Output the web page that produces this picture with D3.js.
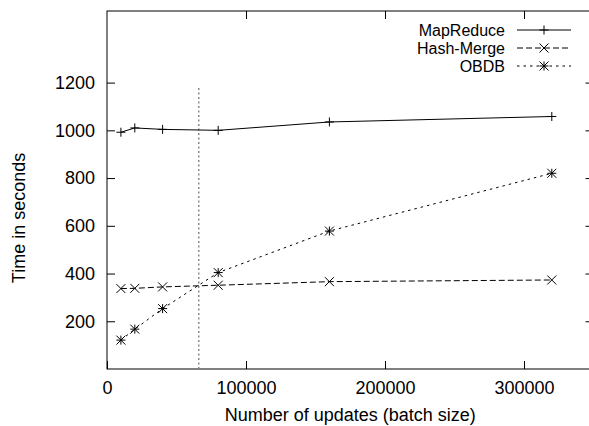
<!DOCTYPE html>
<html>
<head>
<meta charset="utf-8">
<script src="https://cdn.jsdelivr.net/npm/d3@7"></script>
<style>
  body { margin: 0; background: #fff; }
  text { font-family: "Liberation Sans", Arial, Helvetica, sans-serif; }
</style>
</head>
<body>
<div id="main"></div>
<script>
var batchSizes = [10000, 20000, 40000, 80000, 160000, 320000]
var mapReduce = [992, 1010, 1004, 1000, 1035, 1058]
var hashMerge = [337, 338, 344, 351, 366, 373]
var obdb = [121, 167, 253, 404, 578, 820]
var seriesNames = ['MapReduce', 'Hash-Merge', 'OBDB']
var xTicks = [0, 100000, 200000, 300000]
var yTicks = [200, 400, 600, 800, 1000, 1200]
var cutoff = { x: 66000, top: 1180 }

var width = 589
var height = 426
var fontSize = 18

var x = d3.scaleLinear().domain([0, 350000]).range([107, 593.5])
var y = d3.scaleLinear().domain([0, 1500]).range([369, 11])

var svg = d3.select('#main')
  .append('svg')
  .attr('width', width)
  .attr('height', height)

var series = [
  { name: seriesNames[0], values: mapReduce, dash: null, marker: 'plus' },
  { name: seriesNames[1], values: hashMerge, dash: '6,3', marker: 'cross' },
  { name: seriesNames[2], values: obdb, dash: '2.5,4', marker: 'star' }
]

// axes, ticks pointing inward
function styleAxis (g) {
  g.select('.domain').remove()
  g.selectAll('line').attr('stroke', '#000')
  g.selectAll('text').attr('font-size', fontSize).attr('fill', '#000')
    .style('font-family', '"Liberation Sans", Arial, Helvetica, sans-serif')
}

svg.append('g')
  .attr('transform', `translate(0, ${y(0)})`)
  .call(d3.axisBottom(x).tickValues(xTicks).tickSize(-8).tickPadding(12).tickFormat(d3.format('d')))
  .call(styleAxis)

svg.append('g')
  .attr('transform', `translate(0, ${y(1500)})`)
  .call(d3.axisTop(x).tickValues(xTicks.slice(1)).tickSize(-8).tickFormat(''))
  .call(styleAxis)

svg.append('g')
  .attr('transform', `translate(${x(0)}, 0)`)
  .call(d3.axisLeft(y).tickValues(yTicks).tickSize(-8).tickPadding(12).tickFormat(d3.format('d')))
  .call(styleAxis)

svg.append('g')
  .attr('transform', `translate(${x(350000)}, 0)`)
  .call(d3.axisRight(y).tickValues(yTicks).tickSize(-8).tickFormat(''))
  .call(styleAxis)

svg.append('rect')
  .attr('x', x(0))
  .attr('y', y(1500))
  .attr('width', x(350000) - x(0))
  .attr('height', y(0) - y(1500))
  .attr('fill', 'none')
  .attr('stroke', '#000')

// vertical dotted marker
svg.append('line')
  .attr('x1', x(cutoff.x)).attr('x2', x(cutoff.x))
  .attr('y1', y(0)).attr('y2', y(cutoff.top))
  .attr('stroke', '#888')
  .attr('stroke-width', 1.5)
  .attr('stroke-dasharray', '2,2.5')

function drawMarker (g, type, cx, cy) {
  var s = 4.5
  var d = ''
  if (type === 'plus' || type === 'star') {
    d += `M${cx - s},${cy}H${cx + s}M${cx},${cy - s}V${cy + s}`
  }
  if (type === 'cross' || type === 'star') {
    d += `M${cx - s},${cy - s}L${cx + s},${cy + s}M${cx - s},${cy + s}L${cx + s},${cy - s}`
  }
  g.append('path').attr('d', d).attr('stroke', '#000').attr('fill', 'none')
}

var line = d3.line().x(_ => x(_[0])).y(_ => y(_[1]))

series.forEach(function (s) {
  var pts = batchSizes.map((b, i) => [b, s.values[i]])
  svg.append('path')
    .attr('d', line(pts))
    .attr('fill', 'none')
    .attr('stroke', '#000')
    .attr('stroke-dasharray', s.dash)
  var g = svg.append('g')
  pts.forEach(p => drawMarker(g, s.marker, x(p[0]), y(p[1])))
})

// legend
var legend = svg.append('g')
series.forEach(function (s, i) {
  var cy = 30 + i * 18
  legend.append('text')
    .attr('x', 505)
    .attr('y', cy + 5.5)
    .attr('text-anchor', 'end')
    .attr('font-size', 16)
    .text(s.name)
  legend.append('line')
    .attr('x1', 517).attr('x2', 571)
    .attr('y1', cy).attr('y2', cy)
    .attr('stroke', '#000')
    .attr('stroke-dasharray', s.dash)
  drawMarker(legend, s.marker, 544, cy)
})

// axis labels
svg.append('text')
  .attr('x', (x(0) + x(350000)) / 2)
  .attr('y', 421)
  .attr('text-anchor', 'middle')
  .attr('font-size', fontSize)
  .text('Number of updates (batch size)')

svg.append('text')
  .attr('transform', 'translate(25, 218) rotate(-90)')
  .attr('text-anchor', 'middle')
  .attr('font-size', fontSize)
  .text('Time in seconds')
</script>
</body>
</html>
